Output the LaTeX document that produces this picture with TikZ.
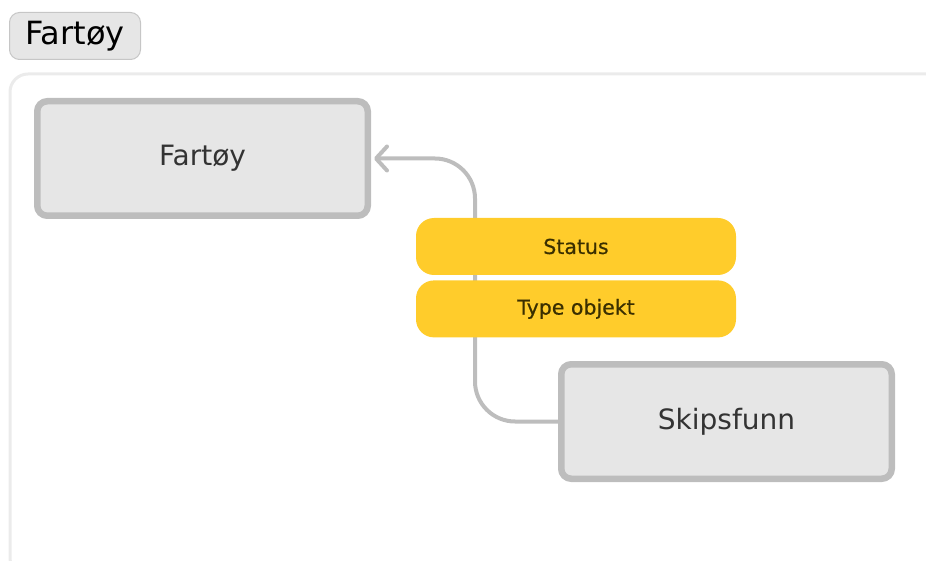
\documentclass[tikz,border=0pt]{standalone}
\usepackage{fontspec}
\setmainfont{DejaVu Sans}
\newfontfamily\pillfont[FakeBold=0.6]{DejaVu Sans}
\usetikzlibrary{positioning,arrows.meta}

\definecolor{boxfill}{HTML}{E6E6E6}
\definecolor{boxline}{HTML}{BDBDBD}
\definecolor{tagline}{HTML}{C6C6C6}
\definecolor{frameline}{HTML}{EBEBEB}
\definecolor{pillfill}{HTML}{FFCC2B}
\definecolor{pilltext}{HTML}{3A2F00}
\definecolor{boxtext}{HTML}{333333}

\begin{document}
\begin{tikzpicture}[
    x=1pt, y=-1pt,
    node distance = 5pt,
    ebox/.style={
        rectangle,
        draw=boxline,
        fill=boxfill,
        line width=6.5pt,
        rounded corners=10pt,
        minimum width=330.5pt,
        minimum height=114.5pt,
        text=boxtext,
        font=\fontsize{28}{33}\selectfont
        },
    pill/.style={
        rectangle,
        fill=pillfill,
        rounded corners=18pt,
        minimum width=320pt,
        minimum height=57pt,
        text=pilltext,
        font=\pillfont\fontsize{20.5}{25}\selectfont
        },
    tag/.style={
        rectangle,
        draw=tagline,
        fill=boxfill,
        line width=1pt,
        rounded corners=10pt,
        minimum width=131pt,
        minimum height=47pt,
        font=\fontsize{32}{37}\selectfont
        },
    link/.style={
        draw=boxline,
        line width=4pt,
        -{Straight Barb[length=11pt,width=24pt,line width=4pt,round]}
        },
]
\useasboundingbox (0,0) rectangle (926,561);

% frame
\begin{scope}
\clip (0,0) rectangle (926,561);
\draw[frameline, line width=3pt, rounded corners=18pt] (10,74) rectangle (944,576);
\end{scope}

\node[tag] (title) at (75,36) {Fartøy};

\node[ebox] (fartoy) at (202.5,158.5) {Fartøy};
\node[ebox] (skip) at (726.5,421.5) {Skipsfunn};

% connector with explicit quarter bends
\coordinate (bend1) at (475,421.5);
\coordinate (bend2) at (475,158.5);
\draw[link] (skip.west) -- ([xshift=40pt]bend1)
    .. controls ([xshift=18pt]bend1) and ([yshift=18pt]bend1) .. ([yshift=40pt]bend1)
    -- ([yshift=-40pt]bend2)
    .. controls ([yshift=-18pt]bend2) and ([xshift=-18pt]bend2) .. ([xshift=-40pt]bend2)
    -- ([xshift=3pt]fartoy.east);

\node[pill] (status) at (576,246.5) {Status};
\node[pill, below=5pt of status] (type) {Type objekt};

\end{tikzpicture}
\end{document}
